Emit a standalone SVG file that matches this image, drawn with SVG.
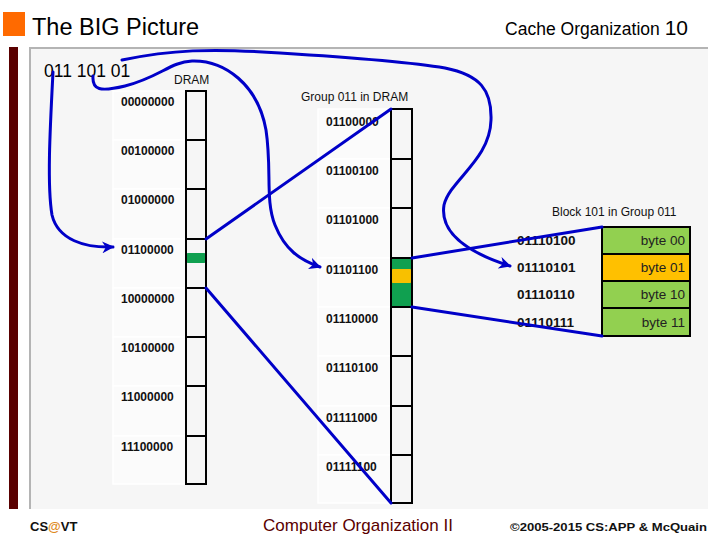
<svg xmlns="http://www.w3.org/2000/svg" width="720" height="540" viewBox="0 0 720 540">
<style>
text{font-family:"Liberation Sans",Arial,sans-serif}
.addr{font-size:12px;font-weight:bold;fill:#111}
.addr2{font-size:13.5px;font-weight:bold;fill:#111}
.cell{fill:none;stroke:#000;stroke-width:2}
.band{fill:#fbfbfb;stroke:#fff;stroke-width:1.5}
.small{font-size:12px;fill:#111}
.tbl{stroke:#000;stroke-width:2}
.byte{font-size:13.5px;fill:#222;text-anchor:end}
.conn{fill:none;stroke:#0000c8;stroke-width:3;stroke-linecap:round}
</style>
<defs>
<marker id="ah" viewBox="0 0 10 10" refX="9" refY="5" markerWidth="4" markerHeight="4" orient="auto" markerUnits="strokeWidth">
<path d="M0,0 L10,5 L0,10 L3,5 z" fill="#0000c8"/>
</marker>
</defs>
<rect width="720" height="540" fill="#fff"/>
<rect x="30" y="48" width="678" height="461" fill="#f6f6f6"/>
<path d="M30,509 V48 H708" fill="none" stroke="#b4b4b4" stroke-width="2"/>
<rect x="9" y="47" width="9" height="462" fill="#5a0000"/>
<rect x="3" y="12" width="22" height="24" fill="#ff6a00"/>
<text x="32" y="35" font-size="23.5" fill="#000">The BIG Picture</text>
<text x="688" y="35" font-size="17.5" text-anchor="end" fill="#000">Cache Organization <tspan font-size="21">10</tspan></text>
<text x="44" y="77" font-size="17.5" fill="#000">011 101 01</text>

<g id="dram">
<text x="174" y="84" class="small">DRAM</text>
<rect class="band" x="113" y="91" width="73" height="49"/>
<rect class="band" x="113" y="140" width="73" height="49"/>
<rect class="band" x="113" y="189" width="73" height="50"/>
<rect class="band" x="113" y="239" width="73" height="49"/>
<rect class="band" x="113" y="288" width="73" height="49"/>
<rect class="band" x="113" y="337" width="73" height="49"/>
<rect class="band" x="113" y="386" width="73" height="50"/>
<rect class="band" x="113" y="436" width="73" height="48"/>
<rect x="186" y="91" width="20" height="393" fill="#f6f6f6"/>
<rect x="185" y="253" width="22" height="10" rx="3" fill="#10a050"/>
<rect class="cell" x="186" y="91" width="20" height="393"/>
<path d="M186,140H206M186,189H206M186,239H206M186,288H206M186,337H206M186,386H206M186,436H206" stroke="#000" stroke-width="2"/>
<text class="addr" x="121" y="106">00000000</text>
<text class="addr" x="121" y="155">00100000</text>
<text class="addr" x="121" y="204">01000000</text>
<text class="addr" x="121" y="254">01100000</text>
<text class="addr" x="121" y="303">10000000</text>
<text class="addr" x="121" y="352">10100000</text>
<text class="addr" x="121" y="401">11000000</text>
<text class="addr" x="121" y="451">11100000</text>
</g>

<g id="group">
<text x="301" y="101" class="small">Group 011 in DRAM</text>
<rect class="band" x="318" y="109" width="73" height="50"/>
<rect class="band" x="318" y="159" width="73" height="49"/>
<rect class="band" x="318" y="208" width="73" height="50"/>
<rect class="band" x="318" y="258" width="73" height="49"/>
<rect class="band" x="318" y="307" width="73" height="49"/>
<rect class="band" x="318" y="356" width="73" height="50"/>
<rect class="band" x="318" y="406" width="73" height="49"/>
<rect class="band" x="318" y="455" width="73" height="48"/>
<rect x="391" y="109" width="21" height="394" fill="#f6f6f6"/>
<rect x="391" y="258" width="21" height="49" fill="#10a050"/>
<rect x="391" y="269" width="21" height="14" rx="2" fill="#f8c000"/>
<rect class="cell" x="391" y="109" width="21" height="394"/>
<path d="M391,159H412M391,208H412M391,258H412M391,307H412M391,356H412M391,406H412M391,455H412" stroke="#000" stroke-width="2"/>
<text class="addr" x="326" y="126">01100000</text>
<text class="addr" x="326" y="175">01100100</text>
<text class="addr" x="326" y="224">01101000</text>
<text class="addr" x="326" y="274">01101100</text>
<text class="addr" x="326" y="323">01110000</text>
<text class="addr" x="326" y="372">01110100</text>
<text class="addr" x="326" y="422">01111000</text>
<text class="addr" x="326" y="471">01111100</text>
</g>

<g id="block">
<text x="552" y="216" class="small">Block 101 in Group 011</text>
<rect class="tbl" x="602" y="227" width="88" height="27" fill="#92d050"/>
<rect class="tbl" x="602" y="254" width="88" height="27" fill="#ffc000"/>
<rect class="tbl" x="602" y="281" width="88" height="27" fill="#92d050"/>
<rect class="tbl" x="602" y="308" width="88" height="28" fill="#92d050"/>
<text class="byte" x="685" y="245">byte 00</text>
<text class="byte" x="685" y="272">byte 01</text>
<text class="byte" x="685" y="299">byte 10</text>
<text class="byte" x="685" y="327">byte 11</text>
<text class="addr2" x="517" y="245">01110100</text>
<text class="addr2" x="517" y="272">01110101</text>
<text class="addr2" x="517" y="299">01110110</text>
<text class="addr2" x="517" y="327">01110111</text>
</g>

<g id="connectors">
<path class="conn" d="M53,72 C50,130 47,185 52,215 C58,240 85,248 113,247" marker-end="url(#ah)"/>
<path class="conn" d="M93,76 C92,90 100,92 125,86 C160,77 170,62 192,61 C225,60 258,85 266,130 C272,170 265,200 275,225 C285,250 300,260 320,267" marker-end="url(#ah)"/>
<path class="conn" d="M122,60 C170,50 210,48 280,53 C360,58 410,62 445,68 C480,75 492,90 491,120 C490,160 450,180 444,205 C440,230 460,250 510,266" marker-end="url(#ah)"/>
<path class="conn" d="M206,239 L391,109"/>
<path class="conn" d="M206,288 L391,503"/>
<path class="conn" d="M412,258 L602,227"/>
<path class="conn" d="M412,307 L602,336"/>
</g>

<text x="30" y="531" font-size="13" font-weight="bold" fill="#111">CS<tspan fill="#e08a20">@</tspan>VT</text>
<text x="358" y="531" font-size="17" text-anchor="middle" fill="#5a0000">Computer Organization II</text>
<text x="707" y="531" font-size="11.5" font-weight="bold" text-anchor="end" fill="#111" textLength="197" lengthAdjust="spacingAndGlyphs">©2005-2015 CS:APP &amp; McQuain</text>
</svg>
